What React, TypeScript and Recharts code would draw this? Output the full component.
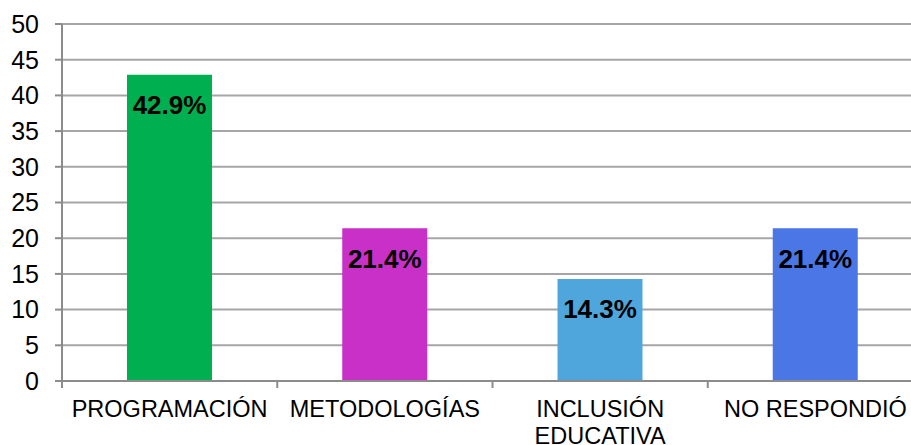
import React from 'react';
import { BarChart, Bar, XAxis, YAxis, CartesianGrid, Cell, LabelList } from 'recharts';

const categories = ['PROGRAMACIÓN', 'METODOLOGÍAS', 'INCLUSIÓN\nEDUCATIVA', 'NO RESPONDIÓ'];
const values = [42.9, 21.4, 14.3, 21.4];
const valueLabels = ['42.9%', '21.4%', '14.3%', '21.4%'];
const yTicks = [0, 5, 10, 15, 20, 25, 30, 35, 40, 45, 50];
const COLORS = ['#00B050', '#C930C8', '#4FA6DC', '#4A76E6'];

const CHART_W = 925;
const CHART_H = 445;
const Y_AXIS_W = 62;
const RIGHT = 2;
const BAND = (CHART_W - Y_AXIS_W - RIGHT) / categories.length;
const FONT = '"Liberation Sans", Arial, sans-serif';

const data = categories.map((name, i) => ({ name, value: values[i], label: valueLabels[i] }));

const CategoryTick = (props: any) => {
  const { x, y, payload, index } = props;
  const lines = String(payload.value).split('\n');
  return (
    <g>
      <line x1={x - BAND / 2} y1={y} x2={x - BAND / 2} y2={y + 7} stroke="#8C8C8C" strokeWidth={2} />
      {index === categories.length - 1 && (
        <line x1={x + BAND / 2} y1={y} x2={x + BAND / 2} y2={y + 7} stroke="#8C8C8C" strokeWidth={2} />
      )}
      <text x={x} y={y + 36} textAnchor="middle" fill="#000" fontSize={23.5} fontFamily={FONT}>
        {lines.map((l, i) => (
          <tspan key={i} x={x} dy={i === 0 ? 0 : 27}>{l}</tspan>
        ))}
      </text>
    </g>
  );
};

export default function App() {
  return (
    <div style={{ position: 'absolute', left: 0, top: 0, width: 911, height: 445, overflow: 'hidden', background: '#fff' }}>
      <BarChart
        width={CHART_W}
        height={CHART_H}
        data={data}
        margin={{ top: 24, right: RIGHT, left: 0, bottom: 0 }}
        barSize={85}
      >
        <CartesianGrid vertical={false} stroke="#A6A6A6" strokeWidth={2} />
        <XAxis
          dataKey="name"
          height={64}
          interval={0}
          tickLine={false}
          tickSize={0}
          tickMargin={0}
          axisLine={{ stroke: '#8C8C8C', strokeWidth: 2 }}
          tick={<CategoryTick />}
        />
        <YAxis
          width={Y_AXIS_W}
          domain={[0, 50]}
          ticks={yTicks}
          interval={0}
          tickSize={7}
          tickMargin={16}
          tickLine={{ stroke: '#8C8C8C', strokeWidth: 2 }}
          axisLine={{ stroke: '#8C8C8C', strokeWidth: 2 }}
          tick={{ fill: '#000', fontSize: 25, fontFamily: FONT }}
        />
        <Bar dataKey="value" isAnimationActive={false}>
          {data.map((d, i) => (
            <Cell key={d.name} fill={COLORS[i]} />
          ))}
          <LabelList
            dataKey="label"
            position="insideTop"
            offset={21}
            fill="#000"
            style={{ fontSize: 26, fontWeight: 'bold', fontFamily: FONT }}
          />
        </Bar>
      </BarChart>
    </div>
  );
}
